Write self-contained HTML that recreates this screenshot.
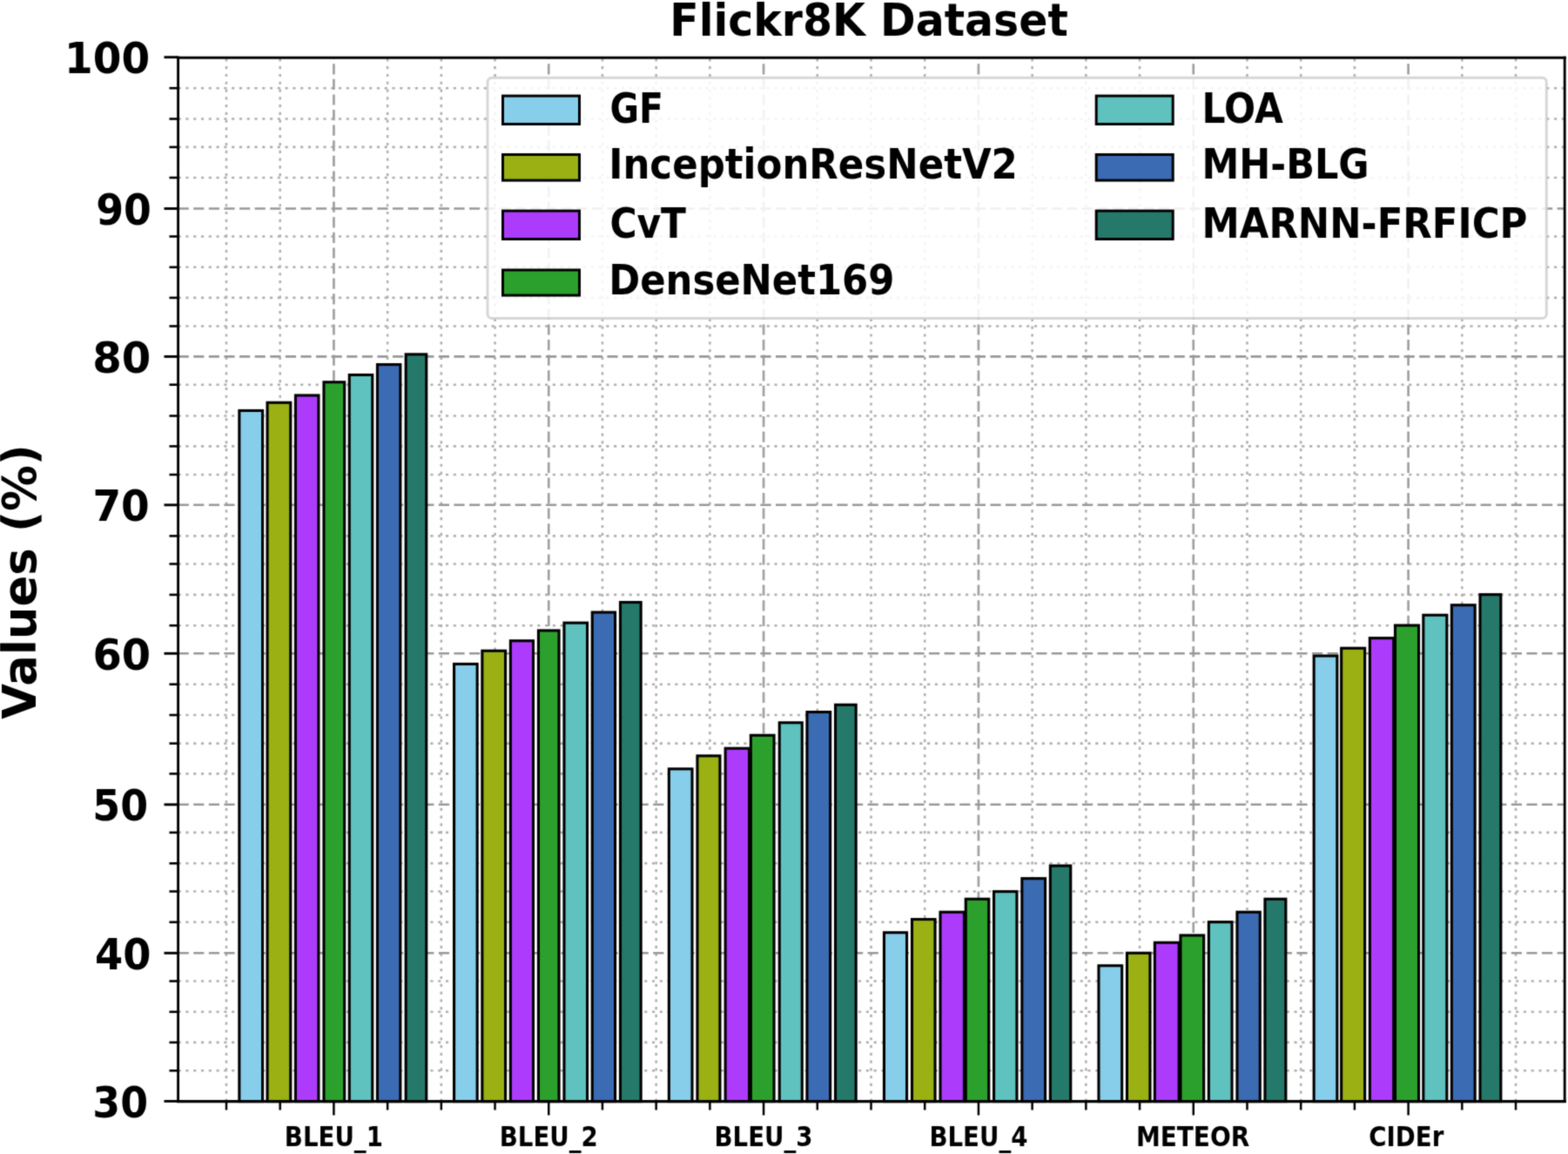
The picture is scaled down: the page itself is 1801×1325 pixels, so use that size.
<!DOCTYPE html>
<html lang="en"><head><meta charset="utf-8"><title>Flickr8K Dataset</title>
<style>
html,body{margin:0;padding:0;background:#fff;}
body{width:1801px;height:1325px;overflow:hidden;}
svg{display:block;}
text{font-family:"DejaVu Sans","Liberation Sans",sans-serif;font-weight:bold;fill:#000;}
</style></head><body>
<svg width="1801" height="1325" viewBox="0 0 1801 1325" role="img" aria-label="Flickr8K Dataset bar chart">
<defs><filter id="soft" x="-10" y="-10" width="1821" height="1345" filterUnits="userSpaceOnUse" color-interpolation-filters="sRGB"><feConvolveMatrix order="3" kernelMatrix="1 4 1 4 16 4 1 4 1" divisor="36" edgeMode="duplicate" preserveAlpha="true"/></filter></defs>
<g filter="url(#soft)">
<rect x="-20" y="-20" width="1841" height="1365" fill="#fff"/>
<g fill="none">
<g stroke="#b0b0b0" stroke-width="2.6" stroke-dasharray="3.2 5.58">
<line x1="259.98" y1="1264.6" x2="259.98" y2="66.2"/>
<line x1="321.69" y1="1264.6" x2="321.69" y2="66.2"/>
<line x1="445.11" y1="1264.6" x2="445.11" y2="66.2"/>
<line x1="506.82" y1="1264.6" x2="506.82" y2="66.2"/>
<line x1="568.53" y1="1264.6" x2="568.53" y2="66.2"/>
<line x1="691.95" y1="1264.6" x2="691.95" y2="66.2"/>
<line x1="753.66" y1="1264.6" x2="753.66" y2="66.2"/>
<line x1="815.37" y1="1264.6" x2="815.37" y2="66.2"/>
<line x1="938.79" y1="1264.6" x2="938.79" y2="66.2"/>
<line x1="1000.5" y1="1264.6" x2="1000.5" y2="66.2"/>
<line x1="1062.21" y1="1264.6" x2="1062.21" y2="66.2"/>
<line x1="1185.63" y1="1264.6" x2="1185.63" y2="66.2"/>
<line x1="1247.34" y1="1264.6" x2="1247.34" y2="66.2"/>
<line x1="1309.05" y1="1264.6" x2="1309.05" y2="66.2"/>
<line x1="1432.47" y1="1264.6" x2="1432.47" y2="66.2"/>
<line x1="1494.18" y1="1264.6" x2="1494.18" y2="66.2"/>
<line x1="1555.89" y1="1264.6" x2="1555.89" y2="66.2"/>
<line x1="1679.31" y1="1264.6" x2="1679.31" y2="66.2"/>
<line x1="1741.02" y1="1264.6" x2="1741.02" y2="66.2"/>
<line x1="204.6" y1="1229.3" x2="1797.2" y2="1229.3"/>
<line x1="204.6" y1="1196.9" x2="1797.2" y2="1196.9"/>
<line x1="204.6" y1="1161.8" x2="1797.2" y2="1161.8"/>
<line x1="204.6" y1="1126.5" x2="1797.2" y2="1126.5"/>
<line x1="204.6" y1="1058.8" x2="1797.2" y2="1058.8"/>
<line x1="204.6" y1="1023.5" x2="1797.2" y2="1023.5"/>
<line x1="204.6" y1="991.3" x2="1797.2" y2="991.3"/>
<line x1="204.6" y1="955.9" x2="1797.2" y2="955.9"/>
<line x1="204.6" y1="888.4" x2="1797.2" y2="888.4"/>
<line x1="204.6" y1="853.6" x2="1797.2" y2="853.6"/>
<line x1="204.6" y1="821" x2="1797.2" y2="821"/>
<line x1="204.6" y1="785.7" x2="1797.2" y2="785.7"/>
<line x1="204.6" y1="718.2" x2="1797.2" y2="718.2"/>
<line x1="204.6" y1="682.9" x2="1797.2" y2="682.9"/>
<line x1="204.6" y1="647.5" x2="1797.2" y2="647.5"/>
<line x1="204.6" y1="615.4" x2="1797.2" y2="615.4"/>
<line x1="204.6" y1="545" x2="1797.2" y2="545"/>
<line x1="204.6" y1="512.4" x2="1797.2" y2="512.4"/>
<line x1="204.6" y1="477.5" x2="1797.2" y2="477.5"/>
<line x1="204.6" y1="441.7" x2="1797.2" y2="441.7"/>
<line x1="204.6" y1="374.5" x2="1797.2" y2="374.5"/>
<line x1="204.6" y1="341.9" x2="1797.2" y2="341.9"/>
<line x1="204.6" y1="306.8" x2="1797.2" y2="306.8"/>
<line x1="204.6" y1="271.5" x2="1797.2" y2="271.5"/>
<line x1="204.6" y1="204" x2="1797.2" y2="204"/>
<line x1="204.6" y1="168.9" x2="1797.2" y2="168.9"/>
<line x1="204.6" y1="136.5" x2="1797.2" y2="136.5"/>
<line x1="204.6" y1="101.2" x2="1797.2" y2="101.2"/>
</g>
<g stroke="#a0a0a0" stroke-width="2.7" stroke-dasharray="12.2 5.4">
<line x1="383.4" y1="1264.6" x2="383.4" y2="66.2"/>
<line x1="630.24" y1="1264.6" x2="630.24" y2="66.2"/>
<line x1="877.08" y1="1264.6" x2="877.08" y2="66.2"/>
<line x1="1123.92" y1="1264.6" x2="1123.92" y2="66.2"/>
<line x1="1370.76" y1="1264.6" x2="1370.76" y2="66.2"/>
<line x1="1617.6" y1="1264.6" x2="1617.6" y2="66.2"/>
</g>
<g stroke="#989898" stroke-width="2.6" stroke-dasharray="12.2 5.4">
<line x1="204.6" y1="1094.3" x2="1797.2" y2="1094.3"/>
<line x1="204.6" y1="923.8" x2="1797.2" y2="923.8"/>
<line x1="204.6" y1="750.3" x2="1797.2" y2="750.3"/>
<line x1="204.6" y1="579.8" x2="1797.2" y2="579.8"/>
<line x1="204.6" y1="409.4" x2="1797.2" y2="409.4"/>
<line x1="204.6" y1="239.5" x2="1797.2" y2="239.5"/>
</g>
</g>
<g>
<rect x="274.85" y="471.45" width="26.7" height="793.15" fill="#87CEEB" stroke="#000" stroke-width="3.1"/>
<rect x="307.05" y="462.25" width="26.7" height="802.35" fill="#9AB013" stroke="#000" stroke-width="3.1"/>
<rect x="339.45" y="453.95" width="26.5" height="810.65" fill="#AD3BFB" stroke="#000" stroke-width="3.1"/>
<rect x="371.95" y="438.75" width="23.7" height="825.85" fill="#2CA02C" stroke="#000" stroke-width="3.1"/>
<rect x="401.25" y="430.45" width="26.5" height="834.15" fill="#5FC2BE" stroke="#000" stroke-width="3.1"/>
<rect x="433.45" y="418.55" width="26.4" height="846.05" fill="#3B6BB3" stroke="#000" stroke-width="3.1"/>
<rect x="466.15" y="406.85" width="23.6" height="857.75" fill="#25796A" stroke="#000" stroke-width="3.1"/>
<rect x="521.55" y="762.4" width="26.6" height="502.2" fill="#87CEEB" stroke="#000" stroke-width="3.1"/>
<rect x="553.85" y="747.25" width="26.7" height="517.35" fill="#9AB013" stroke="#000" stroke-width="3.1"/>
<rect x="586.35" y="735.75" width="26.15" height="528.85" fill="#AD3BFB" stroke="#000" stroke-width="3.1"/>
<rect x="618.45" y="723.95" width="23.6" height="540.65" fill="#2CA02C" stroke="#000" stroke-width="3.1"/>
<rect x="647.95" y="715.15" width="26.6" height="549.45" fill="#5FC2BE" stroke="#000" stroke-width="3.1"/>
<rect x="680.25" y="703.05" width="26.3" height="561.55" fill="#3B6BB3" stroke="#000" stroke-width="3.1"/>
<rect x="712.5" y="691.55" width="23.65" height="573.05" fill="#25796A" stroke="#000" stroke-width="3.1"/>
<rect x="768.35" y="882.85" width="26.65" height="381.75" fill="#87CEEB" stroke="#000" stroke-width="3.1"/>
<rect x="800.95" y="867.85" width="26" height="396.75" fill="#9AB013" stroke="#000" stroke-width="3.1"/>
<rect x="833.15" y="859.25" width="27.4" height="405.35" fill="#AD3BFB" stroke="#000" stroke-width="3.1"/>
<rect x="862.35" y="844.25" width="26.7" height="420.35" fill="#2CA02C" stroke="#000" stroke-width="3.1"/>
<rect x="895.25" y="829.75" width="26" height="434.85" fill="#5FC2BE" stroke="#000" stroke-width="3.1"/>
<rect x="926.95" y="817.55" width="26.7" height="447.05" fill="#3B6BB3" stroke="#000" stroke-width="3.1"/>
<rect x="959.55" y="809.25" width="23.6" height="455.35" fill="#25796A" stroke="#000" stroke-width="3.1"/>
<rect x="1015.45" y="1070.75" width="26.1" height="193.85" fill="#87CEEB" stroke="#000" stroke-width="3.1"/>
<rect x="1047.5" y="1055.55" width="26.55" height="209.05" fill="#9AB013" stroke="#000" stroke-width="3.1"/>
<rect x="1080" y="1047.25" width="27.45" height="217.35" fill="#AD3BFB" stroke="#000" stroke-width="3.1"/>
<rect x="1109.25" y="1032.25" width="26.5" height="232.35" fill="#2CA02C" stroke="#000" stroke-width="3.1"/>
<rect x="1141.55" y="1023.65" width="26.4" height="240.95" fill="#5FC2BE" stroke="#000" stroke-width="3.1"/>
<rect x="1173.85" y="1008.65" width="26.7" height="255.95" fill="#3B6BB3" stroke="#000" stroke-width="3.1"/>
<rect x="1206.35" y="994.05" width="23.4" height="270.55" fill="#25796A" stroke="#000" stroke-width="3.1"/>
<rect x="1261.95" y="1108.75" width="26.7" height="155.85" fill="#87CEEB" stroke="#000" stroke-width="3.1"/>
<rect x="1294.45" y="1094.25" width="26.5" height="170.35" fill="#9AB013" stroke="#000" stroke-width="3.1"/>
<rect x="1326.35" y="1082.25" width="27.8" height="182.35" fill="#AD3BFB" stroke="#000" stroke-width="3.1"/>
<rect x="1355.95" y="1073.95" width="26.7" height="190.65" fill="#2CA02C" stroke="#000" stroke-width="3.1"/>
<rect x="1388.35" y="1058.65" width="26.65" height="205.95" fill="#5FC2BE" stroke="#000" stroke-width="3.1"/>
<rect x="1420.95" y="1047.25" width="26.3" height="217.35" fill="#3B6BB3" stroke="#000" stroke-width="3.1"/>
<rect x="1452.95" y="1032.25" width="23.9" height="232.35" fill="#25796A" stroke="#000" stroke-width="3.1"/>
<rect x="1509.15" y="753.05" width="26.7" height="511.55" fill="#87CEEB" stroke="#000" stroke-width="3.1"/>
<rect x="1540.65" y="744.25" width="27" height="520.35" fill="#9AB013" stroke="#000" stroke-width="3.1"/>
<rect x="1573.35" y="732.65" width="27.35" height="531.95" fill="#AD3BFB" stroke="#000" stroke-width="3.1"/>
<rect x="1602.5" y="718.05" width="27.05" height="546.55" fill="#2CA02C" stroke="#000" stroke-width="3.1"/>
<rect x="1634.85" y="706.25" width="27" height="558.35" fill="#5FC2BE" stroke="#000" stroke-width="3.1"/>
<rect x="1667.35" y="694.75" width="26.8" height="569.85" fill="#3B6BB3" stroke="#000" stroke-width="3.1"/>
<rect x="1700" y="682.65" width="23.85" height="581.95" fill="#25796A" stroke="#000" stroke-width="3.1"/>
</g>
<g stroke="#000" fill="none" stroke-linecap="square">
<line x1="204.6" y1="66.2" x2="1797.2" y2="66.2" stroke-width="3.1"/>
<line x1="204.6" y1="1264.6" x2="1797.2" y2="1264.6" stroke-width="3.1"/>
<line x1="204.6" y1="66.2" x2="204.6" y2="1264.6" stroke-width="2.9"/>
<line x1="1797.2" y1="66.2" x2="1797.2" y2="1264.6" stroke-width="2.9"/>
</g>
<g stroke="#000" stroke-width="3" fill="none">
<line x1="188.5" y1="1264.4" x2="204.6" y2="1264.4" stroke-width="2.9"/>
<line x1="194.5" y1="1229.3" x2="204.6" y2="1229.3" stroke-width="2.6"/>
<line x1="194.5" y1="1196.9" x2="204.6" y2="1196.9" stroke-width="2.6"/>
<line x1="194.5" y1="1161.8" x2="204.6" y2="1161.8" stroke-width="2.6"/>
<line x1="194.5" y1="1126.5" x2="204.6" y2="1126.5" stroke-width="2.6"/>
<line x1="188.5" y1="1094.3" x2="204.6" y2="1094.3" stroke-width="2.9"/>
<line x1="194.5" y1="1058.8" x2="204.6" y2="1058.8" stroke-width="2.6"/>
<line x1="194.5" y1="1023.5" x2="204.6" y2="1023.5" stroke-width="2.6"/>
<line x1="194.5" y1="991.3" x2="204.6" y2="991.3" stroke-width="2.6"/>
<line x1="194.5" y1="955.9" x2="204.6" y2="955.9" stroke-width="2.6"/>
<line x1="188.5" y1="923.8" x2="204.6" y2="923.8" stroke-width="2.9"/>
<line x1="194.5" y1="888.4" x2="204.6" y2="888.4" stroke-width="2.6"/>
<line x1="194.5" y1="853.6" x2="204.6" y2="853.6" stroke-width="2.6"/>
<line x1="194.5" y1="821" x2="204.6" y2="821" stroke-width="2.6"/>
<line x1="194.5" y1="785.7" x2="204.6" y2="785.7" stroke-width="2.6"/>
<line x1="188.5" y1="750.3" x2="204.6" y2="750.3" stroke-width="2.9"/>
<line x1="194.5" y1="718.2" x2="204.6" y2="718.2" stroke-width="2.6"/>
<line x1="194.5" y1="682.9" x2="204.6" y2="682.9" stroke-width="2.6"/>
<line x1="194.5" y1="647.5" x2="204.6" y2="647.5" stroke-width="2.6"/>
<line x1="194.5" y1="615.4" x2="204.6" y2="615.4" stroke-width="2.6"/>
<line x1="188.5" y1="579.8" x2="204.6" y2="579.8" stroke-width="2.9"/>
<line x1="194.5" y1="545" x2="204.6" y2="545" stroke-width="2.6"/>
<line x1="194.5" y1="512.4" x2="204.6" y2="512.4" stroke-width="2.6"/>
<line x1="194.5" y1="477.5" x2="204.6" y2="477.5" stroke-width="2.6"/>
<line x1="194.5" y1="441.7" x2="204.6" y2="441.7" stroke-width="2.6"/>
<line x1="188.5" y1="409.4" x2="204.6" y2="409.4" stroke-width="2.9"/>
<line x1="194.5" y1="374.5" x2="204.6" y2="374.5" stroke-width="2.6"/>
<line x1="194.5" y1="341.9" x2="204.6" y2="341.9" stroke-width="2.6"/>
<line x1="194.5" y1="306.8" x2="204.6" y2="306.8" stroke-width="2.6"/>
<line x1="194.5" y1="271.5" x2="204.6" y2="271.5" stroke-width="2.6"/>
<line x1="188.5" y1="239.5" x2="204.6" y2="239.5" stroke-width="2.9"/>
<line x1="194.5" y1="204" x2="204.6" y2="204" stroke-width="2.6"/>
<line x1="194.5" y1="168.9" x2="204.6" y2="168.9" stroke-width="2.6"/>
<line x1="194.5" y1="136.5" x2="204.6" y2="136.5" stroke-width="2.6"/>
<line x1="194.5" y1="101.2" x2="204.6" y2="101.2" stroke-width="2.6"/>
<line x1="188.5" y1="65.7" x2="204.6" y2="65.7" stroke-width="2.9"/>
<line x1="259.98" y1="1264.6" x2="259.98" y2="1274.5" stroke-width="2.5"/>
<line x1="321.69" y1="1264.6" x2="321.69" y2="1274.5" stroke-width="2.5"/>
<line x1="383.4" y1="1264.6" x2="383.4" y2="1280.5" stroke-width="2.5"/>
<line x1="445.11" y1="1264.6" x2="445.11" y2="1274.5" stroke-width="2.5"/>
<line x1="506.82" y1="1264.6" x2="506.82" y2="1274.5" stroke-width="2.5"/>
<line x1="568.53" y1="1264.6" x2="568.53" y2="1274.5" stroke-width="2.5"/>
<line x1="630.24" y1="1264.6" x2="630.24" y2="1280.5" stroke-width="2.5"/>
<line x1="691.95" y1="1264.6" x2="691.95" y2="1274.5" stroke-width="2.5"/>
<line x1="753.66" y1="1264.6" x2="753.66" y2="1274.5" stroke-width="2.5"/>
<line x1="815.37" y1="1264.6" x2="815.37" y2="1274.5" stroke-width="2.5"/>
<line x1="877.08" y1="1264.6" x2="877.08" y2="1280.5" stroke-width="2.5"/>
<line x1="938.79" y1="1264.6" x2="938.79" y2="1274.5" stroke-width="2.5"/>
<line x1="1000.5" y1="1264.6" x2="1000.5" y2="1274.5" stroke-width="2.5"/>
<line x1="1062.21" y1="1264.6" x2="1062.21" y2="1274.5" stroke-width="2.5"/>
<line x1="1123.92" y1="1264.6" x2="1123.92" y2="1280.5" stroke-width="2.5"/>
<line x1="1185.63" y1="1264.6" x2="1185.63" y2="1274.5" stroke-width="2.5"/>
<line x1="1247.34" y1="1264.6" x2="1247.34" y2="1274.5" stroke-width="2.5"/>
<line x1="1309.05" y1="1264.6" x2="1309.05" y2="1274.5" stroke-width="2.5"/>
<line x1="1370.76" y1="1264.6" x2="1370.76" y2="1280.5" stroke-width="2.5"/>
<line x1="1432.47" y1="1264.6" x2="1432.47" y2="1274.5" stroke-width="2.5"/>
<line x1="1494.18" y1="1264.6" x2="1494.18" y2="1274.5" stroke-width="2.5"/>
<line x1="1555.89" y1="1264.6" x2="1555.89" y2="1274.5" stroke-width="2.5"/>
<line x1="1617.6" y1="1264.6" x2="1617.6" y2="1280.5" stroke-width="2.5"/>
<line x1="1679.31" y1="1264.6" x2="1679.31" y2="1274.5" stroke-width="2.5"/>
<line x1="1741.02" y1="1264.6" x2="1741.02" y2="1274.5" stroke-width="2.5"/>
</g>
<g>
<text transform="translate(170.2 1282.6) scale(0.9250 1)" font-size="49.6" text-anchor="end">30</text>
<text transform="translate(173.4 1112.5) scale(0.9340 1)" font-size="49.6" text-anchor="end">40</text>
<text transform="translate(170.2 942) scale(0.9250 1)" font-size="49.6" text-anchor="end">50</text>
<text transform="translate(173.2 768.5) scale(0.9680 1)" font-size="49.6" text-anchor="end">60</text>
<text transform="translate(171.8 598) scale(0.9470 1)" font-size="49.6" text-anchor="end">70</text>
<text transform="translate(173.4 427.6) scale(0.9720 1)" font-size="49.6" text-anchor="end">80</text>
<text transform="translate(173.9 257.7) scale(0.9230 1)" font-size="49.6" text-anchor="end">90</text>
<text transform="translate(172.1 83.9) scale(0.9480 1)" font-size="49.6" text-anchor="end">100</text>
</g>
<g>
<text transform="translate(383.4 1315.6) scale(0.8780 1)" font-size="31.5" text-anchor="middle">BLEU_1</text>
<text transform="translate(630.24 1315.6) scale(0.8780 1)" font-size="31.5" text-anchor="middle">BLEU_2</text>
<text transform="translate(877.08 1315.6) scale(0.8780 1)" font-size="31.5" text-anchor="middle">BLEU_3</text>
<text transform="translate(1123.92 1315.6) scale(0.8780 1)" font-size="31.5" text-anchor="middle">BLEU_4</text>
<text transform="translate(1370.06 1315.6) scale(0.8880 1)" font-size="31.5" text-anchor="middle">METEOR</text>
<text transform="translate(1615.3 1315.6) scale(0.8780 1)" font-size="31.5" text-anchor="middle">CIDEr</text>
</g>
<text transform="translate(998.05 40.9) scale(0.9660 1)" font-size="50.7" text-anchor="middle">Flickr8K Dataset</text>
<text transform="translate(41 667.85) rotate(-90) scale(0.9856 1)" font-size="53.5" text-anchor="middle">Values (%)</text>
<rect x="560" y="89.3" width="1216.3" height="276.1" rx="5" ry="5" fill="#fff" fill-opacity="0.86" stroke="#ccc" stroke-opacity="0.8" stroke-width="3"/>
<g>
<rect x="577.5" y="110.1" width="88" height="32.4" fill="#87CEEB" stroke="#000" stroke-width="3"/>
<text transform="translate(700.4 141) scale(0.8593 1)" font-size="47.7">GF</text>
<rect x="577.5" y="177.5" width="88" height="29.6" fill="#9AB013" stroke="#000" stroke-width="3"/>
<text transform="translate(699.2 205.4) scale(0.9123 1)" font-size="47.7">InceptionResNetV2</text>
<rect x="577.5" y="242.1" width="88" height="32.4" fill="#AD3BFB" stroke="#000" stroke-width="3"/>
<text transform="translate(700.4 273.1) scale(0.8887 1)" font-size="47.7">CvT</text>
<rect x="577.5" y="310" width="88" height="29.1" fill="#2CA02C" stroke="#000" stroke-width="3"/>
<text transform="translate(699.2 337.9) scale(0.9085 1)" font-size="47.7">DenseNet169</text>
<rect x="1259.2" y="110.1" width="88" height="32.4" fill="#5FC2BE" stroke="#000" stroke-width="3"/>
<text transform="translate(1380.5 141) scale(0.8896 1)" font-size="47.7">LOA</text>
<rect x="1259.2" y="177.5" width="88" height="29.6" fill="#3B6BB3" stroke="#000" stroke-width="3"/>
<text transform="translate(1380.5 205.4) scale(0.9019 1)" font-size="47.7">MH-BLG</text>
<rect x="1259.2" y="242.1" width="88" height="32.4" fill="#25796A" stroke="#000" stroke-width="3"/>
<text transform="translate(1380.5 273.1) scale(0.9113 1)" font-size="47.7">MARNN-FRFICP</text>
</g>
</g>
</svg>
</body></html>
